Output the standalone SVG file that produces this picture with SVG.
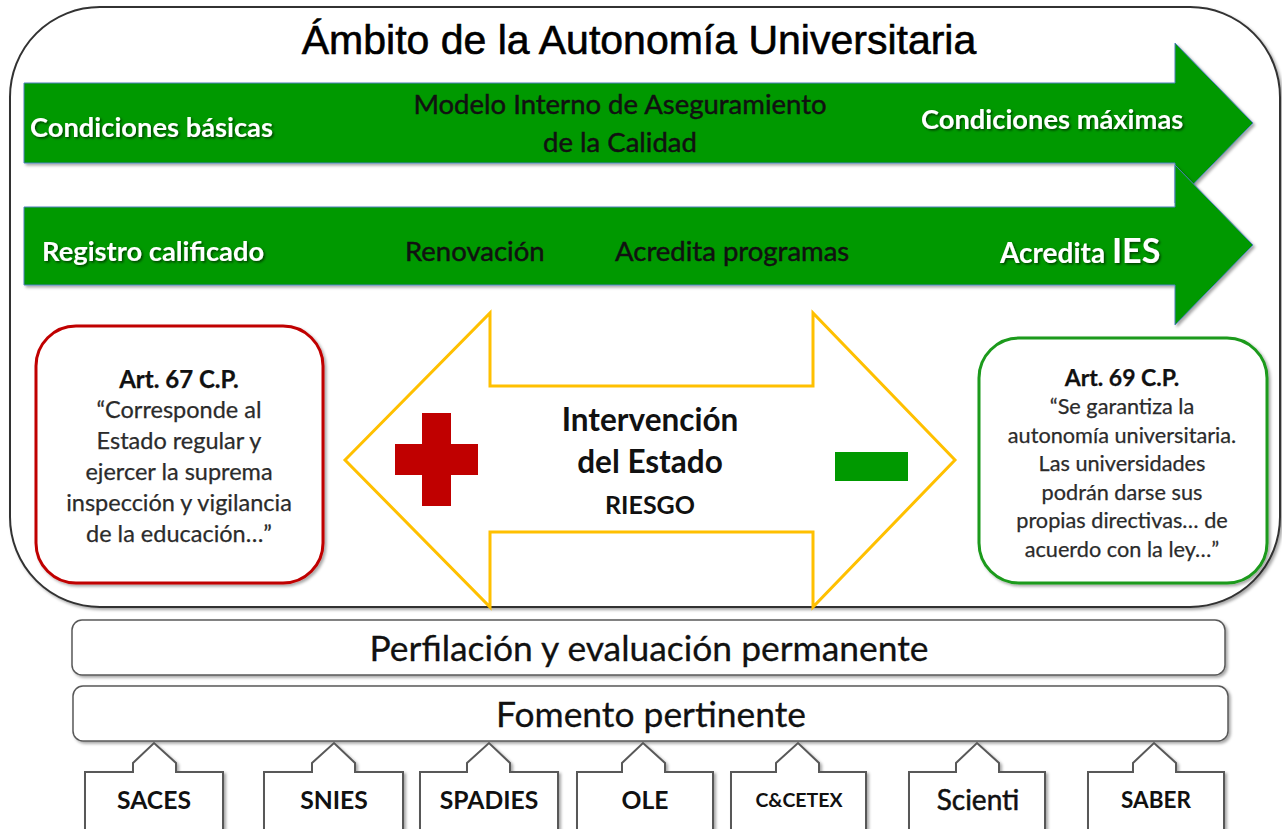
<svg xmlns="http://www.w3.org/2000/svg" width="1282" height="829" viewBox="0 0 1282 829">
<defs>
<filter id="sh" x="-5%" y="-5%" width="110%" height="115%">
<feDropShadow dx="2" dy="2" stdDeviation="1.5" flood-color="#000" flood-opacity="0.35"/>
</filter>
<filter id="tsh" x="-5%" y="-20%" width="110%" height="140%">
<feDropShadow dx="1.5" dy="1.5" stdDeviation="1" flood-color="#000" flood-opacity="0.6"/>
</filter>
<style>
.lato{font-family:Lato,"Open Sans","Liberation Sans",sans-serif;}
.wt{fill:#fff;font-weight:bold;font-size:27.3px;}
.bk{fill:#111;font-size:27.5px;stroke:#111;stroke-width:0.45px;}
.garrow{fill:#009900;stroke:#4f81bd;stroke-width:1;}
.quote{font-size:23.5px;fill:#2b2b2b;text-anchor:middle;stroke:#2b2b2b;stroke-width:0.25px;}
.quote2{font-size:21.7px;fill:#2b2b2b;text-anchor:middle;stroke:#2b2b2b;stroke-width:0.25px;}
.bar{fill:#fff;stroke:#595959;stroke-width:1.5;}
.bartxt{font-size:35.4px;fill:#111;text-anchor:middle;stroke:#111;stroke-width:0.3px;}
.call{fill:#fff;stroke:#595959;stroke-width:2;}
.calltxt{font-size:24.7px;font-weight:bold;fill:#111;text-anchor:middle;}
.ctr{font-weight:bold;fill:#111;text-anchor:middle;}
</style>
</defs>
<rect width="1282" height="829" fill="#fff"/>

<g id="ambito">
<rect x="10" y="7" width="1270" height="600" rx="90" ry="90" fill="#fff" stroke="#333" stroke-width="2" filter="url(#sh)"/>
<text x="639" y="54" text-anchor="middle" font-family="'Liberation Sans',Arial,sans-serif" font-size="41" fill="#000" stroke="#000" stroke-width="0.6">Ámbito de la Autonomía Universitaria</text>
</g>

<g id="arrow-calidad">
<path class="garrow" d="M24,83 L1175,83 L1175,43 L1253,123 L1175,203 L1175,163 L24,163 Z" filter="url(#sh)"/>
<text class="lato wt" x="30" y="137" filter="url(#tsh)">Condiciones básicas</text>
<text class="lato bk" x="620" y="114" text-anchor="middle">Modelo Interno de Aseguramiento</text>
<text class="lato bk" x="620" y="152" text-anchor="middle">de la Calidad</text>
<text class="lato wt" x="921" y="129" filter="url(#tsh)">Condiciones máximas</text>
</g>

<g id="arrow-registro">
<path class="garrow" d="M24,207 L1175,207 L1175,165 L1253,245 L1175,325 L1175,285 L24,285 Z" filter="url(#sh)"/>
<text class="lato wt" x="42" y="261" filter="url(#tsh)">Registro calificado</text>
<text class="lato bk" x="405" y="261">Renovación</text>
<text class="lato bk" x="615" y="261">Acredita programas</text>
<text class="lato wt" x="1000" y="263" style="font-size:28px" filter="url(#tsh)">Acredita <tspan style="font-size:34px">IES</tspan></text>
</g>

<g id="art67">
<rect x="36" y="326" width="287" height="257" rx="40" ry="40" fill="#fff" stroke="#c00000" stroke-width="3" filter="url(#sh)"/>
<text class="lato quote" x="179" y="388" style="font-weight:bold;font-size:24px;fill:#111;stroke:#111">Art. 67 C.P.</text>
<text class="lato quote" x="179" y="418">“Corresponde al</text>
<text class="lato quote" x="179" y="449">Estado regular y</text>
<text class="lato quote" x="179" y="480">ejercer la suprema</text>
<text class="lato quote" x="179" y="511">inspección y vigilancia</text>
<text class="lato quote" x="179" y="542">de la educación…”</text>
</g>

<g id="intervencion">
<path d="M345,460 L490,313 L490,386 L813,386 L813,313 L955,460 L813,607 L813,532 L490,532 L490,607 Z" fill="#fff" stroke="#ffc000" stroke-width="3" stroke-linejoin="miter"/>
<path d="M422,413 H451 V444 H478 V475 H451 V506 H422 V475 H395 V444 H422 Z" fill="#c00000"/>
<rect x="835" y="452" width="73" height="29" fill="#009900"/>
<text class="lato ctr" x="650" y="431" font-size="31.5">Intervención</text>
<text class="lato ctr" x="650" y="473" font-size="31.5">del Estado</text>
<text class="lato ctr" x="650" y="514" font-size="25">RIESGO</text>
</g>

<g id="art69">
<rect x="979" y="338" width="288" height="245" rx="40" ry="40" fill="#fff" stroke="#1a9a1a" stroke-width="3" filter="url(#sh)"/>
<text class="lato quote2" x="1122" y="386" style="font-weight:bold;font-size:23px;fill:#111;stroke:#111">Art. 69 C.P.</text>
<text class="lato quote2" x="1122" y="414">“Se garantiza la</text>
<text class="lato quote2" x="1122" y="443">autonomía universitaria.</text>
<text class="lato quote2" x="1122" y="471">Las universidades</text>
<text class="lato quote2" x="1122" y="500">podrán darse sus</text>
<text class="lato quote2" x="1122" y="528">propias directivas… de</text>
<text class="lato quote2" x="1122" y="557">acuerdo con la ley…”</text>
</g>

<g id="perfilacion">
<rect class="bar" x="72" y="620" width="1153" height="55" rx="10" ry="10" filter="url(#sh)"/>
<text class="lato bartxt" x="649" y="661">Perfilación y evaluación permanente</text>
</g>

<g id="fomento">
<rect class="bar" x="73" y="686" width="1155" height="55" rx="10" ry="10" filter="url(#sh)"/>
<text class="lato bartxt" x="651" y="727">Fomento pertinente</text>
</g>

<g id="saces">
<path class="call" d="M85,772 H133 V763 L154,743 L176,763 V772 H223 V835 H85 Z" filter="url(#sh)"/>
<text class="lato calltxt" x="154" y="809">SACES</text>
</g>
<g id="snies">
<path class="call" d="M264,772 H312 V763 L334,743 L355,763 V772 H403 V835 H264 Z" filter="url(#sh)"/>
<text class="lato calltxt" x="334" y="809">SNIES</text>
</g>
<g id="spadies">
<path class="call" d="M420,772 H467 V763 L489,743 L510,763 V772 H558 V835 H420 Z" filter="url(#sh)"/>
<text class="lato calltxt" x="489" y="809">SPADIES</text>
</g>
<g id="ole">
<path class="call" d="M577,772 H622 V763 L643,743 L665,763 V772 H713 V835 H577 Z" filter="url(#sh)"/>
<text class="lato calltxt" x="645" y="809">OLE</text>
</g>
<g id="ccetex">
<path class="call" d="M731,772 H776 V763 L798,743 L819,763 V772 H866 V835 H731 Z" filter="url(#sh)"/>
<text class="lato calltxt" x="799" y="807" style="font-size:19.5px">C&amp;CETEX</text>
</g>
<g id="scienti">
<path class="call" d="M909,772 H956 V763 L977,743 L999,763 V772 H1045 V835 H909 Z" filter="url(#sh)"/>
<text class="lato calltxt" x="978" y="810" style="font-weight:normal;font-size:28px;stroke:#111;stroke-width:0.5px">Scienti</text>
</g>
<g id="saber">
<path class="call" d="M1088,772 H1133 V763 L1154,743 L1176,763 V772 H1224 V835 H1088 Z" filter="url(#sh)"/>
<text class="lato calltxt" x="1156" y="808" style="font-size:22.5px">SABER</text>
</g>
</svg>
